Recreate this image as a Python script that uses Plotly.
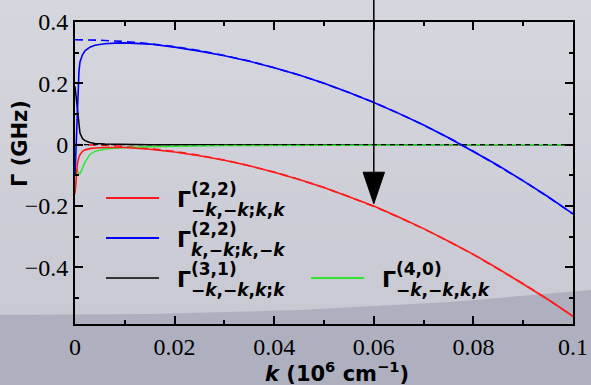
import plotly.graph_objects as go

# ---- data (k in 10^6 cm^-1, Gamma in GHz) ----
k_grid = [0, 0.0002, 0.0005, 0.0008, 0.001, 0.0015, 0.002, 0.003, 0.004, 0.006,
          0.008, 0.01, 0.015, 0.02, 0.025, 0.03, 0.035, 0.04, 0.045, 0.05,
          0.055, 0.06, 0.065, 0.07, 0.075, 0.08, 0.085, 0.09, 0.095, 0.1]

gamma_22_pair = [-0.16, -0.11, -0.06, -0.04, -0.033, -0.022, -0.017, -0.013, -0.011, -0.0095,
                 -0.009, -0.0095, -0.015, -0.024, -0.036, -0.051, -0.069, -0.09, -0.114, -0.14,
                 -0.17, -0.2, -0.236, -0.274, -0.315, -0.358, -0.405, -0.454, -0.505, -0.56]

gamma_22_exch = [-0.10, 0.0, 0.15, 0.24, 0.27, 0.293, 0.306, 0.318, 0.324, 0.329,
                 0.331, 0.332, 0.328, 0.318, 0.305, 0.290, 0.272, 0.251, 0.227, 0.200,
                 0.170, 0.1375, 0.102, 0.064, 0.0225, -0.0215, -0.068, -0.118, -0.170, -0.226]

gamma_31 = [0.19, 0.16, 0.11, 0.06, 0.038, 0.02, 0.013, 0.007, 0.004, 0.002,
            0.001, 0.0005, 0, 0, 0, 0, 0, 0, 0, 0,
            0, 0, 0, 0, 0, 0, 0, 0, 0, 0]

gamma_40 = [-0.075, -0.08, -0.088, -0.094, -0.095, -0.075, -0.058, -0.032, -0.022, -0.014,
            -0.011, -0.009, -0.007, -0.005, -0.004, -0.003, -0.0025, -0.002, -0.0015, -0.001,
            -0.001, -0.0005, 0, 0, 0, 0, 0, 0, 0, 0]

# small-k analytic approximations (dashed)
k_fit = [0, 0.005, 0.01, 0.015, 0.02, 0.025, 0.03, 0.035, 0.04, 0.045, 0.05,
         0.055, 0.06, 0.065, 0.07, 0.075, 0.08, 0.085, 0.09, 0.095, 0.1]
fit_22_exch = [0.342, 0.3406, 0.3363, 0.3292, 0.3193, 0.3065, 0.2909, 0.2724, 0.2511, 0.2270, 0.2000,
               0.1702, 0.1375, 0.1020, 0.0637, 0.0225, -0.0215, -0.0684, -0.1181, -0.1706, -0.2260]
fit_22_pair = [0, -0.0014, -0.0056, -0.0126, -0.0224, -0.035, -0.0504, -0.0686, -0.0896, -0.1134, -0.14,
               -0.1694, -0.2016, -0.2366, -0.2744, -0.315, -0.3584, -0.4046, -0.4536, -0.5054, -0.56]
k_zero = [0, 0.1]
fit_zero = [0, 0]

# marker arrow at k = 0.06
arrow_k = 0.06
arrow_head_top = -0.090
arrow_tip = -0.193

# legend entries: (colour, superscript, subscript)
legend_colors = ["#ff1a1a", "#0000ff", "#333333", "#33e633"]
legend_sup = ["(2,2)", "(2,2)", "(3,1)", "(4,0)"]
legend_sub = ["−<i>k</i>,−<i>k</i>;<i>k</i>,<i>k</i>",
              "<i>k</i>,−<i>k</i>;<i>k</i>,−<i>k</i>",
              "−<i>k</i>,−<i>k</i>,<i>k</i>;<i>k</i>",
              "−<i>k</i>,−<i>k</i>,<i>k</i>,<i>k</i>"]

# ---- layout geometry ----
W, H = 591, 385
ML, MR, MT, MB = 75, 18, 22, 61
x_range = [0, 0.1]
y_range = [-0.585, 0.4]
PW, PH = W - ML - MR, H - MT - MB


def px(xp):
    return (xp - ML) / PW


def py(yp):
    return (H - MB - yp) / PH


RED, BLUE, BLACK, GREEN = legend_colors[0], legend_colors[1], "#000000", legend_colors[3]

fig = go.Figure()
fig.add_trace(go.Scatter(x=k_fit, y=fit_22_exch, mode="lines",
                         line=dict(color=BLUE, width=1.6, dash="8px,5px")))
fig.add_trace(go.Scatter(x=k_fit, y=fit_22_pair, mode="lines",
                         line=dict(color=RED, width=1.6, dash="8px,5px")))
fig.add_trace(go.Scatter(x=k_grid, y=gamma_31, mode="lines",
                         line=dict(color=BLACK, width=1.5)))
fig.add_trace(go.Scatter(x=k_grid, y=gamma_40, mode="lines",
                         line=dict(color=GREEN, width=1.5)))
fig.add_trace(go.Scatter(x=k_zero, y=fit_zero, mode="lines",
                         line=dict(color=BLACK, width=1.2, dash="5px,4px")))
fig.add_trace(go.Scatter(x=k_grid, y=gamma_22_pair, mode="lines",
                         line=dict(color=RED, width=1.6)))
fig.add_trace(go.Scatter(x=k_grid, y=gamma_22_exch, mode="lines",
                         line=dict(color=BLUE, width=1.6)))

shapes = []
# slide-style background: soft vertical gradient and darker curved band at the bottom
top_rgb, bot_rgb = (214, 215, 222), (197, 198, 208)
n_strips = 24
for i in range(n_strips):
    t = i / (n_strips - 1)
    c = tuple(round(top_rgb[j] + (bot_rgb[j] - top_rgb[j]) * t) for j in range(3))
    y0p = i * H / n_strips
    y1p = (i + 1) * H / n_strips + 1
    shapes.append(dict(type="rect", xref="paper", yref="paper", layer="below",
                       x0=px(0), x1=px(W), y0=py(y1p), y1=py(y0p),
                       line=dict(width=0), fillcolor="rgb(%d,%d,%d)" % c))
band = [(0, 315), (150, 314), (300, 310), (450, 302), (591, 290)]
path = "M %f,%f " % (px(0), py(H + 2))
for bx, by in band:
    path += "L %f,%f " % (px(bx), py(by))
path += "L %f,%f Z" % (px(W + 2), py(H + 2))
shapes.append(dict(type="path", xref="paper", yref="paper", layer="below", path=path,
                   line=dict(width=0), fillcolor="rgb(174,176,192)"))

# arrow: shaft reaching above the frame, filled triangular head
head_top_paper = (arrow_head_top - y_range[0]) / (y_range[1] - y_range[0])
shapes.append(dict(type="line", xref="x", yref="paper", x0=arrow_k, x1=arrow_k,
                   y0=head_top_paper, y1=py(-2), line=dict(color="black", width=1.5)))
half_w = 0.00215
shapes.append(dict(type="path", xref="x", yref="y",
                   path="M %f,%f L %f,%f L %f,%f Z" % (arrow_k - half_w, arrow_head_top,
                                                       arrow_k + half_w, arrow_head_top,
                                                       arrow_k, arrow_tip),
                   line=dict(color="black", width=1), fillcolor="black"))

# legend swatches and labels
rows = [(106, 198), (106, 238), (106, 278), (311, 278)]
annotations = []
lab_font = dict(family="DejaVu Sans", size=17, color="black", weight="bold")
for (sx, sy), col, sup, sub in zip(rows, legend_colors, legend_sup, legend_sub):
    shapes.append(dict(type="line", xref="paper", yref="paper",
                       x0=px(sx), x1=px(sx + 53), y0=py(sy), y1=py(sy),
                       line=dict(color=col, width=2)))
    gx = sx + 69
    annotations.append(dict(text="Γ", xref="paper", yref="paper", x=px(gx), y=py(sy + 1),
                            xanchor="left", yanchor="middle", showarrow=False,
                            font=dict(family="DejaVu Sans", size=22, color="black", weight="bold")))
    annotations.append(dict(text=sup, xref="paper", yref="paper", x=px(gx + 14), y=py(sy - 9),
                            xanchor="left", yanchor="middle", showarrow=False, font=lab_font))
    annotations.append(dict(text=sub, xref="paper", yref="paper", x=px(gx + 14), y=py(sy + 12),
                            xanchor="left", yanchor="middle", showarrow=False, font=lab_font))

# axis titles
annotations.append(dict(text="Γ (GHz)", xref="paper", yref="paper", x=px(20), y=py(144),
                        textangle=-90, xanchor="center", yanchor="middle", showarrow=False,
                        font=dict(family="DejaVu Sans", size=21, color="black", weight="bold")))
annotations.append(dict(text="<i>k</i> (10<sup>6</sup> cm<sup>−1</sup>)", xref="paper", yref="paper",
                        x=px(337), y=py(372.5), xanchor="center", yanchor="middle", showarrow=False,
                        font=dict(family="DejaVu Sans", size=21, color="black", weight="bold")))

serif = "Liberation Serif, Times New Roman, serif"
axis_common = dict(showline=True, linewidth=2, linecolor="black", mirror="allticks",
                   ticks="inside", ticklen=8, tickwidth=1.5, tickcolor="black",
                   showgrid=False, zeroline=False, automargin=False,
                   tickfont=dict(family=serif, size=24, color="black"),
                   minor=dict(ticks="inside", ticklen=4, tickwidth=1.5, tickcolor="black",
                              showgrid=False))

fig.update_layout(
    width=W, height=H,
    margin=dict(l=ML, r=MR, t=MT, b=MB),
    paper_bgcolor="rgb(206,207,215)",
    plot_bgcolor="rgba(0,0,0,0)",
    showlegend=False,
    xaxis=dict(range=x_range, tick0=0, dtick=0.02, minor_dtick=0.01, **axis_common),
    yaxis=dict(range=y_range, tick0=0, dtick=0.2, minor_dtick=0.1, **axis_common),
    shapes=shapes,
    annotations=annotations,
)

fig.write_html("out.html")
